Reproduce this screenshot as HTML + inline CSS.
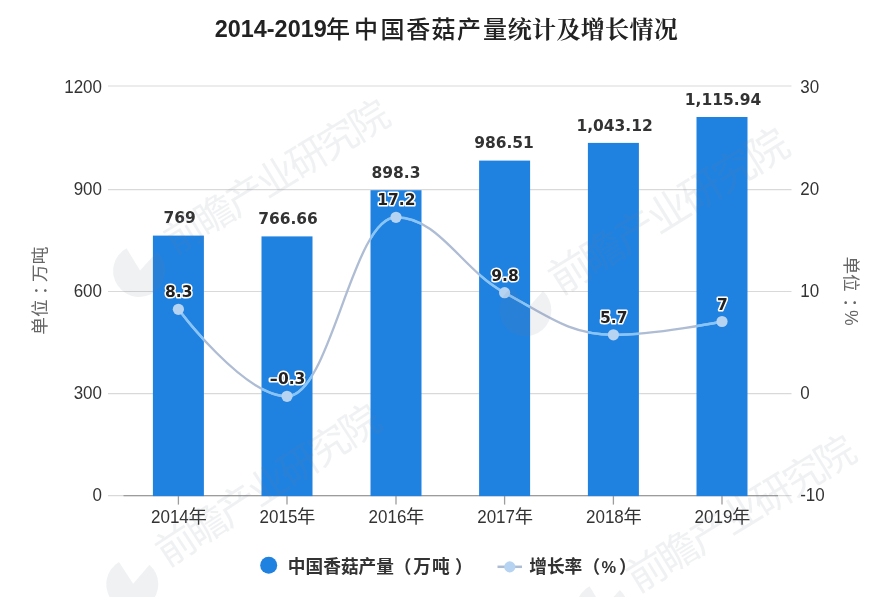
<!DOCTYPE html>
<html lang="zh-CN"><head><meta charset="utf-8"><title>2014-2019年中国香菇产量统计及增长情况</title>
<style>html,body{margin:0;padding:0;background:#fff;}body{width:891px;height:597px;overflow:hidden;}svg{display:block;}</style>
</head><body>
<svg width="891" height="597" viewBox="0 0 891 597">
<rect x="0" y="0" width="891" height="597" fill="#ffffff"/>
<g stroke="#d9d9d9" stroke-width="1.1" fill="none">
<line x1="108.0" y1="86.00" x2="791.5" y2="86.00"/>
<line x1="108.0" y1="189.60" x2="791.5" y2="189.60"/>
<line x1="108.0" y1="291.50" x2="791.5" y2="291.50"/>
<line x1="108.0" y1="393.60" x2="791.5" y2="393.60"/>
<line x1="108.0" y1="495.60" x2="791.5" y2="495.60"/>
</g>
<g stroke="#9c9c9c" stroke-width="1.3" fill="none">
<line x1="123.5" y1="495.60" x2="778.0" y2="495.60"/>
<line x1="178.40" y1="495.60" x2="178.40" y2="504.60"/>
<line x1="287.00" y1="495.60" x2="287.00" y2="504.60"/>
<line x1="396.00" y1="495.60" x2="396.00" y2="504.60"/>
<line x1="504.60" y1="495.60" x2="504.60" y2="504.60"/>
<line x1="613.40" y1="495.60" x2="613.40" y2="504.60"/>
<line x1="722.00" y1="495.60" x2="722.00" y2="504.60"/>
</g>
<g fill="#2082e0">
<rect x="152.90" y="235.60" width="51.00" height="260.50"/>
<rect x="261.50" y="236.40" width="51.00" height="259.70"/>
<rect x="370.50" y="190.20" width="51.00" height="305.90"/>
<rect x="479.10" y="160.60" width="51.00" height="335.50"/>
<rect x="587.90" y="142.90" width="51.00" height="353.20"/>
<rect x="696.50" y="117.00" width="51.00" height="379.10"/>
</g>
<defs><clipPath id="barclip">
<rect x="152.90" y="235.60" width="51.00" height="260.00"/>
<rect x="261.50" y="236.40" width="51.00" height="259.20"/>
<rect x="370.50" y="190.20" width="51.00" height="305.40"/>
<rect x="479.10" y="160.60" width="51.00" height="335.00"/>
<rect x="587.90" y="142.90" width="51.00" height="352.70"/>
<rect x="696.50" y="117.00" width="51.00" height="378.60"/>
</clipPath></defs>
<path d="M 178.40 309.30 C 178.40 309.30 243.56 396.30 287.00 396.30 C 330.60 396.30 352.40 217.30 396.00 217.30 C 439.44 217.30 461.16 269.22 504.60 292.70 C 548.12 316.22 569.88 334.80 613.40 334.80 C 656.84 334.80 722.00 321.50 722.00 321.50" fill="none" stroke="#aebcd4" stroke-width="2.3" stroke-linecap="round" stroke-linejoin="round"/>
<path d="M 178.40 309.30 C 178.40 309.30 243.56 396.30 287.00 396.30 C 330.60 396.30 352.40 217.30 396.00 217.30 C 439.44 217.30 461.16 269.22 504.60 292.70 C 548.12 316.22 569.88 334.80 613.40 334.80 C 656.84 334.80 722.00 321.50 722.00 321.50" fill="none" stroke="#88c5f9" stroke-width="2.5" stroke-linecap="round" stroke-linejoin="round" clip-path="url(#barclip)"/>
<g fill="#b6d3f2">
<circle cx="178.40" cy="309.30" r="5.6"/>
<circle cx="287.00" cy="396.30" r="5.6"/>
<circle cx="396.00" cy="217.30" r="5.6"/>
<circle cx="504.60" cy="292.70" r="5.6"/>
<circle cx="613.40" cy="334.80" r="5.6"/>
<circle cx="722.00" cy="321.50" r="5.6"/>
</g>
<text transform="translate(102.00 92.70) scale(1.0000 1.1200)" x="0" y="0" font-family='"Liberation Sans", "Noto Sans CJK SC", sans-serif' font-size="17.00" font-weight="normal" text-anchor="end" fill="#333333" >1200</text>
<text transform="translate(102.00 194.80) scale(1.0000 1.1200)" x="0" y="0" font-family='"Liberation Sans", "Noto Sans CJK SC", sans-serif' font-size="17.00" font-weight="normal" text-anchor="end" fill="#333333" >900</text>
<text transform="translate(102.00 296.80) scale(1.0000 1.1200)" x="0" y="0" font-family='"Liberation Sans", "Noto Sans CJK SC", sans-serif' font-size="17.00" font-weight="normal" text-anchor="end" fill="#333333" >600</text>
<text transform="translate(102.00 398.80) scale(1.0000 1.1200)" x="0" y="0" font-family='"Liberation Sans", "Noto Sans CJK SC", sans-serif' font-size="17.00" font-weight="normal" text-anchor="end" fill="#333333" >300</text>
<text transform="translate(102.00 500.80) scale(1.0000 1.1200)" x="0" y="0" font-family='"Liberation Sans", "Noto Sans CJK SC", sans-serif' font-size="17.00" font-weight="normal" text-anchor="end" fill="#333333" >0</text>
<text transform="translate(800.20 92.70) scale(1.0000 1.1200)" x="0" y="0" font-family='"Liberation Sans", "Noto Sans CJK SC", sans-serif' font-size="17.00" font-weight="normal" text-anchor="start" fill="#333333" >30</text>
<text transform="translate(800.20 194.80) scale(1.0000 1.1200)" x="0" y="0" font-family='"Liberation Sans", "Noto Sans CJK SC", sans-serif' font-size="17.00" font-weight="normal" text-anchor="start" fill="#333333" >20</text>
<text transform="translate(800.20 296.80) scale(1.0000 1.1200)" x="0" y="0" font-family='"Liberation Sans", "Noto Sans CJK SC", sans-serif' font-size="17.00" font-weight="normal" text-anchor="start" fill="#333333" >10</text>
<text transform="translate(800.20 398.80) scale(1.0000 1.1200)" x="0" y="0" font-family='"Liberation Sans", "Noto Sans CJK SC", sans-serif' font-size="17.00" font-weight="normal" text-anchor="start" fill="#333333" >0</text>
<text transform="translate(800.20 500.80) scale(1.0000 1.1200)" x="0" y="0" font-family='"Liberation Sans", "Noto Sans CJK SC", sans-serif' font-size="17.00" font-weight="normal" text-anchor="start" fill="#333333" >-10</text>
<text x="151.00" y="523.3" font-family='"Liberation Sans", "Noto Sans CJK SC", sans-serif' font-size="19.05" fill="#333333"><tspan textLength="37.8" lengthAdjust="spacingAndGlyphs">2014</tspan><tspan font-size="18.3" dx="-0.3" dy="-0.2">年</tspan></text>
<text x="259.60" y="523.3" font-family='"Liberation Sans", "Noto Sans CJK SC", sans-serif' font-size="19.05" fill="#333333"><tspan textLength="37.8" lengthAdjust="spacingAndGlyphs">2015</tspan><tspan font-size="18.3" dx="-0.3" dy="-0.2">年</tspan></text>
<text x="368.60" y="523.3" font-family='"Liberation Sans", "Noto Sans CJK SC", sans-serif' font-size="19.05" fill="#333333"><tspan textLength="37.8" lengthAdjust="spacingAndGlyphs">2016</tspan><tspan font-size="18.3" dx="-0.3" dy="-0.2">年</tspan></text>
<text x="477.20" y="523.3" font-family='"Liberation Sans", "Noto Sans CJK SC", sans-serif' font-size="19.05" fill="#333333"><tspan textLength="37.8" lengthAdjust="spacingAndGlyphs">2017</tspan><tspan font-size="18.3" dx="-0.3" dy="-0.2">年</tspan></text>
<text x="586.00" y="523.3" font-family='"Liberation Sans", "Noto Sans CJK SC", sans-serif' font-size="19.05" fill="#333333"><tspan textLength="37.8" lengthAdjust="spacingAndGlyphs">2018</tspan><tspan font-size="18.3" dx="-0.3" dy="-0.2">年</tspan></text>
<text x="694.60" y="523.3" font-family='"Liberation Sans", "Noto Sans CJK SC", sans-serif' font-size="19.05" fill="#333333"><tspan textLength="37.8" lengthAdjust="spacingAndGlyphs">2019</tspan><tspan font-size="18.3" dx="-0.3" dy="-0.2">年</tspan></text>
<text transform="translate(179.60 223.40) scale(1.0000 1.0500)" x="0" y="0" font-family='"DejaVu Sans", "Liberation Sans", sans-serif' font-size="15.50" font-weight="bold" text-anchor="middle" fill="#333333" >769</text>
<text transform="translate(288.00 224.20) scale(1.0000 1.0500)" x="0" y="0" font-family='"DejaVu Sans", "Liberation Sans", sans-serif' font-size="15.50" font-weight="bold" text-anchor="middle" fill="#333333" >766.66</text>
<text transform="translate(396.00 178.00) scale(1.0000 1.0500)" x="0" y="0" font-family='"DejaVu Sans", "Liberation Sans", sans-serif' font-size="15.50" font-weight="bold" text-anchor="middle" fill="#333333" >898.3</text>
<text transform="translate(504.00 148.40) scale(1.0000 1.0500)" x="0" y="0" font-family='"DejaVu Sans", "Liberation Sans", sans-serif' font-size="15.50" font-weight="bold" text-anchor="middle" fill="#333333" >986.51</text>
<text transform="translate(614.60 130.70) scale(1.0000 1.0500)" x="0" y="0" font-family='"DejaVu Sans", "Liberation Sans", sans-serif' font-size="15.50" font-weight="bold" text-anchor="middle" fill="#333333" >1,043.12</text>
<text transform="translate(723.00 104.80) scale(1.0000 1.0500)" x="0" y="0" font-family='"DejaVu Sans", "Liberation Sans", sans-serif' font-size="15.50" font-weight="bold" text-anchor="middle" fill="#333333" >1,115.94</text>
<text transform="translate(178.80 297.30) scale(1.0000 1.0500)" x="0" y="0" font-family='"DejaVu Sans", "Liberation Sans", sans-serif' font-size="15.50" font-weight="bold" text-anchor="middle" fill="#222" stroke="#ffffff" stroke-width="3" stroke-linejoin="round" paint-order="stroke fill">8.3</text>
<text transform="translate(287.40 384.30) scale(1.0000 1.0500)" x="0" y="0" font-family='"DejaVu Sans", "Liberation Sans", sans-serif' font-size="15.50" font-weight="bold" text-anchor="middle" fill="#222" stroke="#ffffff" stroke-width="3" stroke-linejoin="round" paint-order="stroke fill"><tspan textLength="8.4" lengthAdjust="spacingAndGlyphs">-</tspan>0.3</text>
<text transform="translate(396.40 205.30) scale(1.0000 1.0500)" x="0" y="0" font-family='"DejaVu Sans", "Liberation Sans", sans-serif' font-size="15.50" font-weight="bold" text-anchor="middle" fill="#222" stroke="#ffffff" stroke-width="3" stroke-linejoin="round" paint-order="stroke fill">17.2</text>
<text transform="translate(505.00 280.70) scale(1.0000 1.0500)" x="0" y="0" font-family='"DejaVu Sans", "Liberation Sans", sans-serif' font-size="15.50" font-weight="bold" text-anchor="middle" fill="#222" stroke="#ffffff" stroke-width="3" stroke-linejoin="round" paint-order="stroke fill">9.8</text>
<text transform="translate(613.80 322.80) scale(1.0000 1.0500)" x="0" y="0" font-family='"DejaVu Sans", "Liberation Sans", sans-serif' font-size="15.50" font-weight="bold" text-anchor="middle" fill="#222" stroke="#ffffff" stroke-width="3" stroke-linejoin="round" paint-order="stroke fill">5.7</text>
<text transform="translate(722.40 309.50) scale(1.0000 1.0500)" x="0" y="0" font-family='"DejaVu Sans", "Liberation Sans", sans-serif' font-size="15.50" font-weight="bold" text-anchor="middle" fill="#222" stroke="#ffffff" stroke-width="3" stroke-linejoin="round" paint-order="stroke fill">7</text>
<text transform="translate(45.6 290.7) rotate(-90)" font-family='"Liberation Sans", "Noto Sans CJK SC", sans-serif' font-size="17.6" text-anchor="middle" fill="#666666">单位<tspan dx="4.6">：</tspan><tspan dx="-4.6">万吨</tspan></text>
<text transform="translate(844.8 291.0) rotate(90)" font-family='"Liberation Sans", "Noto Sans CJK SC", sans-serif' font-size="17.6" text-anchor="middle" fill="#666666">单位<tspan dx="6.6">：</tspan><tspan dx="-6.0">%</tspan></text>
<text y="37.4" font-weight="bold" fill="#222222"><tspan x="214.8" font-family='"Liberation Sans", "Noto Sans CJK SC", sans-serif' font-size="23.4">2014-2019</tspan><tspan x="326.0 354.0 380.4 406.2 431.5 456.9 483.1" y="38.2" font-family='"Liberation Sans", "Noto Sans CJK SC", sans-serif' font-size="24" font-weight="500">年中国香菇产量</tspan><tspan x="507.7 532.0 556.4 580.8 605.1 629.5 653.8" y="38.0" font-family='"Liberation Sans", "Noto Serif CJK SC", serif' font-size="24">统计及增长情况</tspan></text>
<circle cx="268.7" cy="565.3" r="8.5" fill="#2082e0"/>
<text x="287.8 305.5 323.2 340.9 358.6 376.3 393.7 413.3 432.0 454.9" y="572.8" font-family='"Liberation Sans", "Noto Sans CJK SC", sans-serif' font-size="17.7" font-weight="bold" fill="#333333">中国香菇产量（万吨）</text>
<line x1="497.5" y1="566.8" x2="522" y2="566.8" stroke="#aebcd4" stroke-width="2.5"/>
<circle cx="509.8" cy="566.9" r="5.6" fill="#b6d3f2"/>
<text x="529.2 546.9 564.6 582.4 601.6 619.1" y="572.8" font-family='"Liberation Sans", "Noto Sans CJK SC", sans-serif' font-size="17.7" font-weight="bold" fill="#333333">增长率（<tspan font-size="16.4">%</tspan>）</text>
<g transform="translate(184.0 233.0) rotate(-31.42)" fill="#6f7c93" opacity="0.10">
<path d="M -57 -17 A 26 26 0 1 0 -33 2 L -57 9 Z"/>
<text x="-19.51" y="14.05" font-family='"Liberation Sans", "Noto Sans CJK SC", sans-serif' font-size="39.02" font-weight="400" letter-spacing="-2.89">前瞻产业研究院</text>
</g>
<g transform="translate(176.0 545.0) rotate(-33.11)" fill="#6f7c93" opacity="0.10">
<path d="M -57 -17 A 26 26 0 1 0 -33 2 L -57 9 Z"/>
<text x="-19.77" y="14.23" font-family='"Liberation Sans", "Noto Sans CJK SC", sans-serif' font-size="39.54" font-weight="400" letter-spacing="-2.93">前瞻产业研究院</text>
</g>
<g transform="translate(647.0 571.0) rotate(-31.45)" fill="#6f7c93" opacity="0.10">
<path d="M -57 -17 A 26 26 0 1 0 -33 2 L -57 9 Z"/>
<text x="-19.83" y="14.28" font-family='"Liberation Sans", "Noto Sans CJK SC", sans-serif' font-size="39.67" font-weight="400" letter-spacing="-2.94">前瞻产业研究院</text>
</g>
<g transform="translate(570.0 272.0) rotate(-31.77)" fill="#6f7c93" opacity="0.10">
<path d="M -57 -17 A 26 26 0 1 0 -33 2 L -57 9 Z"/>
<text x="-20.85" y="15.02" font-family='"Liberation Sans", "Noto Sans CJK SC", sans-serif' font-size="41.71" font-weight="400" letter-spacing="-3.09">前瞻产业研究院</text>
</g>
</svg></body></html>
